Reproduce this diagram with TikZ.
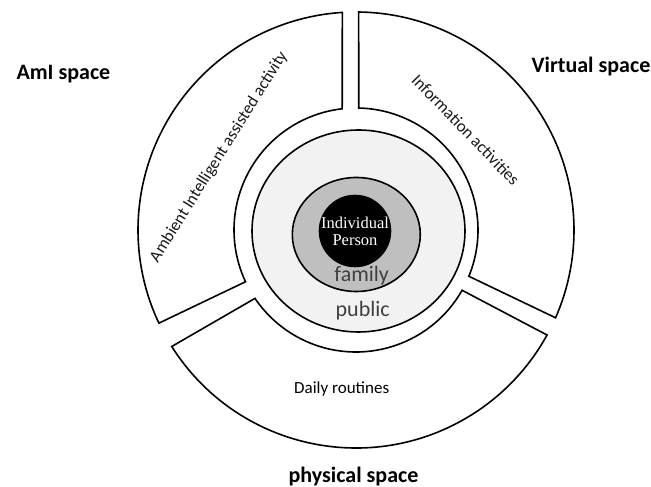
\documentclass[tikz,border=0pt]{standalone}
\usepackage{fontspec}
\setmainfont{Carlito}
\newfontfamily\timesfont{Liberation Serif}
\usetikzlibrary{shapes.geometric}
\definecolor{lightg}{HTML}{F2F2F2}
\definecolor{midg}{HTML}{BFBFBF}
\definecolor{txtg}{HTML}{404040}
\begin{document}
\begin{tikzpicture}[x=1bp,y=1bp,line width=1.6bp,
  seg/.style={draw=black,fill=white,line join=miter},
  spacelabel/.style={font=\fontsize{22bp}{26bp}\selectfont\bfseries,inner sep=0pt,anchor=base},
  segtext/.style={font=\fontsize{17bp}{20bp}\selectfont,text=black!90,inner sep=0pt},
  ringtext/.style={font=\fontsize{22bp}{26bp}\selectfont,text=txtg,inner sep=0pt,anchor=base}]
\useasboundingbox (0,0) rectangle (651,487);
\coordinate (C) at (356,257);
\def\Ro{218bp}
\def\Ri{122bp}
% AmI segment (left)
\draw[seg] ([shift={(93.6:\Ro)}]C) arc[start angle=93.6,end angle=205.3,radius=\Ro]
  -- ([shift={(205.1:\Ri)}]C) arc[start angle=205.1,end angle=96.5,radius=\Ri] -- cycle;
% Virtual segment (right)
\draw[seg] ([shift={(89.3:\Ro)}]C) arc[start angle=89.3,end angle=-23.75,radius=\Ro]
  -- ([shift={(-22.3:\Ri)}]C) arc[start angle=-22.3,end angle=88.7,radius=\Ri] -- cycle;
% physical segment (bottom)
\draw[seg] ([shift={(212.3:\Ro)}]C) arc[start angle=212.3,end angle=331.2,radius=\Ro]
  -- ([shift={(330.4:\Ri)}]C) arc[start angle=330.4,end angle=214.1,radius=\Ri] -- cycle;
% rings
\node[ellipse,draw,fill=lightg,minimum width=213bp,minimum height=202bp,inner sep=0pt] (public) at (358.5,256) {};
\node[ellipse,draw,fill=midg,minimum width=128bp,minimum height=114bp,inner sep=0pt] (family) at (356.3,252.5) {};
\node[circle,draw,fill=black,minimum size=71bp,inner sep=0pt] (person) at (355,256) {};
% centre texts
\node[font=\timesfont\fontsize{16.5bp}{18bp}\selectfont,text=white,inner sep=0pt,anchor=base] (indiv) at (355,258.7) {Individual};
\node[font=\timesfont\fontsize{16.5bp}{18bp}\selectfont,text=white,inner sep=0pt,anchor=base] (pers) at (355,241.3) {Person};
\node[ringtext] (familyt) at (361.7,205.3) {family};
\node[ringtext] (publict) at (362.7,170.3) {public};
% segment texts
\node[segtext,rotate=58] (ambient) at (219,330) {Ambient Intelligent assisted activity};
\node[segtext,rotate=-46] (info) at (465.8,357) {Information activities};
\node[font=\fontsize{17bp}{20bp}\selectfont,inner sep=0pt,anchor=base] (daily) at (341.7,93.7) {Daily routines};
% space labels
\node[spacelabel] (ami) at (63.4,407) {AmI space};
\node[spacelabel] (virtual) at (591,414.7) {Virtual space};
\node[spacelabel] (physical) at (353.5,4.7) {physical space};
\end{tikzpicture}
\end{document}
